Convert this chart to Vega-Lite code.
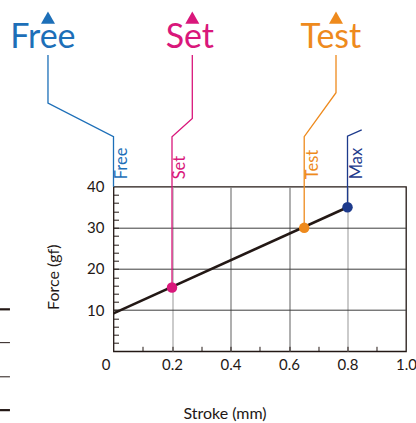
{
  "$schema": "https://vega.github.io/schema/vega-lite/v6.json",
  "autosize": {"type": "none"},
  "width": 292.5,
  "height": 164.6,
  "padding": {"left": 113.5, "top": 186.7, "right": 10, "bottom": 72},
  "config": {
    "view": {"stroke": "#231815", "strokeWidth": 1.3},
    "font": "Lato"
  },
  "datasets": {
    "main": [{"x": 0, "y": 9.2}, {"x": 0.8, "y": 35}],
    "pts": [
      {"g": "Set", "x": 0.2, "y": 15.5},
      {"g": "Test", "x": 0.652, "y": 30},
      {"g": "Max", "x": 0.8, "y": 35}
    ],
    "callouts": [
      {"g": "Free", "o": 1, "x": 0, "y": 40},
      {"g": "Free", "o": 2, "x": 0, "y": 52.15},
      {"g": "Free", "o": 3, "x": -0.224, "y": 60.3},
      {"g": "Free", "o": 4, "x": -0.224, "y": 72.0},
      {"g": "Set", "o": 1, "x": 0.2, "y": 15.5},
      {"g": "Set", "o": 2, "x": 0.2, "y": 52.15},
      {"g": "Set", "o": 3, "x": 0.2694, "y": 56.6},
      {"g": "Set", "o": 4, "x": 0.2694, "y": 72.0},
      {"g": "Test", "o": 1, "x": 0.652, "y": 30},
      {"g": "Test", "o": 2, "x": 0.652, "y": 52.15},
      {"g": "Test", "o": 3, "x": 0.7607, "y": 62.85},
      {"g": "Test", "o": 4, "x": 0.7607, "y": 72.0},
      {"g": "Max", "o": 1, "x": 0.8, "y": 35},
      {"g": "Max", "o": 2, "x": 0.8, "y": 52.3},
      {"g": "Max", "o": 3, "x": 0.8486, "y": 53.8}
    ],
    "tri": [
      {"g": "Free", "x": -0.224, "y": 81.1},
      {"g": "Set", "x": 0.2694, "y": 81.1},
      {"g": "Test", "x": 0.7607, "y": 81.1}
    ],
    "big": [
      {"g": "Free", "x": -0.2414, "y": 73.6, "label": "Free"},
      {"g": "Set", "x": 0.2611, "y": 73.6, "label": "Set"},
      {"g": "Test", "x": 0.7432, "y": 73.6, "label": "Test"}
    ],
    "small": [
      {"g": "Free", "x": 0.047, "y": 41.8, "label": "Free"},
      {"g": "Set", "x": 0.246, "y": 41.8, "label": "Set"},
      {"g": "Test", "x": 0.699, "y": 41.8, "label": "Test"},
      {"g": "Max", "x": 0.848, "y": 41.8, "label": "Max"}
    ],
    "dashes": [
      {"x": -0.388, "x2": -0.354, "y": 10.2, "kind": "thick"},
      {"x": -0.388, "x2": -0.354, "y": 2.1, "kind": "thin"},
      {"x": -0.388, "x2": -0.354, "y": -6.2, "kind": "thin"},
      {"x": -0.388, "x2": -0.354, "y": -14.3, "kind": "thick"}
    ]
  },
  "encoding": {
    "x": {
      "field": "x", "type": "quantitative",
      "scale": {"domain": [0, 1], "nice": false, "zero": false},
      "axis": {
        "values": [0, 0.1, 0.2, 0.3, 0.4, 0.5, 0.6, 0.7, 0.8, 0.9, 1],
        "labelExpr": "round(datum.value*10)%2==0 ? (datum.value==0 ? '0' : (datum.value==1 ? '1.0' : format(datum.value, '.1f'))) : ''",
        "domain": false,
        "tickSize": -5,
        "tickColor": "#231815",
        "tickWidth": 1,
        "tickOpacity": {"condition": {"test": "datum.value==0 || datum.value==1", "value": 0}, "value": 1},
        "grid": true,
        "gridOpacity": {"condition": {"test": "datum.value>0.15 && datum.value<0.85 && round(datum.value*10)%2==0", "value": 1}, "value": 0},
        "gridColor": {"condition": {"test": "abs(datum.value-0.4)<0.01 || abs(datum.value-0.6)<0.01", "value": "#7a7a7a"}, "value": "#a8a8a8"},
        "gridWidth": 1.2,
        "labelFont": "Lato", "labelFontSize": 15, "labelColor": "#231815",
        "labelPadding": 11.5,
        "labelFlush": false,
        "labelOverlap": false,
        "labelBound": false,
        "labelOffset": {"condition": {"test": "datum.value==0", "value": -8}, "value": 0},
        "title": "Stroke (mm)",
        "titleFont": "Lato", "titleFontSize": 16, "titleFontWeight": "normal", "titleColor": "#231815",
        "titleX": 111, "titleY": 67.7, "titleBaseline": "alphabetic", "titleAlign": "center"
      }
    },
    "y": {
      "field": "y", "type": "quantitative",
      "scale": {"domain": [0, 40], "nice": false, "zero": false},
      "axis": {
        "values": [0, 2, 4, 6, 8, 10, 12, 14, 16, 18, 20, 22, 24, 26, 28, 30, 32, 34, 36, 38, 40],
        "labelExpr": "(datum.value%10==0 && datum.value>0) ? datum.label : ''",
        "domain": false,
        "tickSize": -5,
        "tickColor": "#231815",
        "tickWidth": 1,
        "tickOpacity": {"condition": {"test": "datum.value==0 || datum.value==40", "value": 0}, "value": 1},
        "grid": true,
        "gridOpacity": {"condition": {"test": "datum.value%10==0 && datum.value>0 && datum.value<40", "value": 1}, "value": 0},
        "gridColor": "#3c3c3c",
        "gridWidth": 1,
        "labelFont": "Lato", "labelFontSize": 15, "labelColor": "#231815",
        "labelPadding": 14.5,
        "labelOverlap": false,
        "labelBound": false,
        "title": "Force (gf)",
        "titleFont": "Lato", "titleFontSize": 16, "titleFontWeight": "normal", "titleColor": "#231815",
        "titleX": -55.5, "titleY": 90, "titleAngle": 270, "titleBaseline": "alphabetic", "titleAlign": "center"
      }
    }
  },
  "layer": [
    {
      "data": {"name": "dashes"},
      "mark": {"type": "rule", "color": "#231815"},
      "encoding": {
        "x2": {"field": "x2"},
        "strokeWidth": {"field": "kind", "type": "nominal", "scale": {"domain": ["thick", "thin"], "range": [2.2, 1]}, "legend": null}
      }
    },
    {
      "data": {"name": "callouts"},
      "mark": {"type": "line", "strokeWidth": 1.3, "interpolate": "linear"},
      "encoding": {
        "color": {"field": "g", "type": "nominal", "scale": {"domain": ["Free", "Set", "Test", "Max"], "range": ["#1d6fb8", "#d9177b", "#ee8a1d", "#1d3a8c"]}, "legend": null},
        "detail": {"field": "g"},
        "order": {"field": "o", "type": "quantitative"}
      }
    },
    {
      "data": {"name": "main"},
      "mark": {"type": "line", "color": "#231815", "strokeWidth": 2.6}
    },
    {
      "data": {"name": "pts"},
      "mark": {"type": "point", "filled": true, "shape": "circle", "size": 110, "opacity": 1},
      "encoding": {"color": {"field": "g", "type": "nominal", "legend": null}}
    },
    {
      "data": {"name": "tri"},
      "mark": {"type": "point", "filled": true, "shape": "triangle-up", "size": 196, "opacity": 1},
      "encoding": {"color": {"field": "g", "type": "nominal", "legend": null}}
    },
    {
      "data": {"name": "big"},
      "mark": {"type": "text", "font": "Lato", "fontSize": 34, "align": "center", "baseline": "alphabetic"},
      "encoding": {
        "text": {"field": "label"},
        "color": {"field": "g", "type": "nominal", "legend": null}
      }
    },
    {
      "data": {"name": "small"},
      "mark": {"type": "text", "font": "Lato", "fontSize": 16.5, "align": "left", "baseline": "alphabetic", "angle": 270},
      "encoding": {
        "text": {"field": "label"},
        "color": {"field": "g", "type": "nominal", "legend": null}
      }
    }
  ]
}
